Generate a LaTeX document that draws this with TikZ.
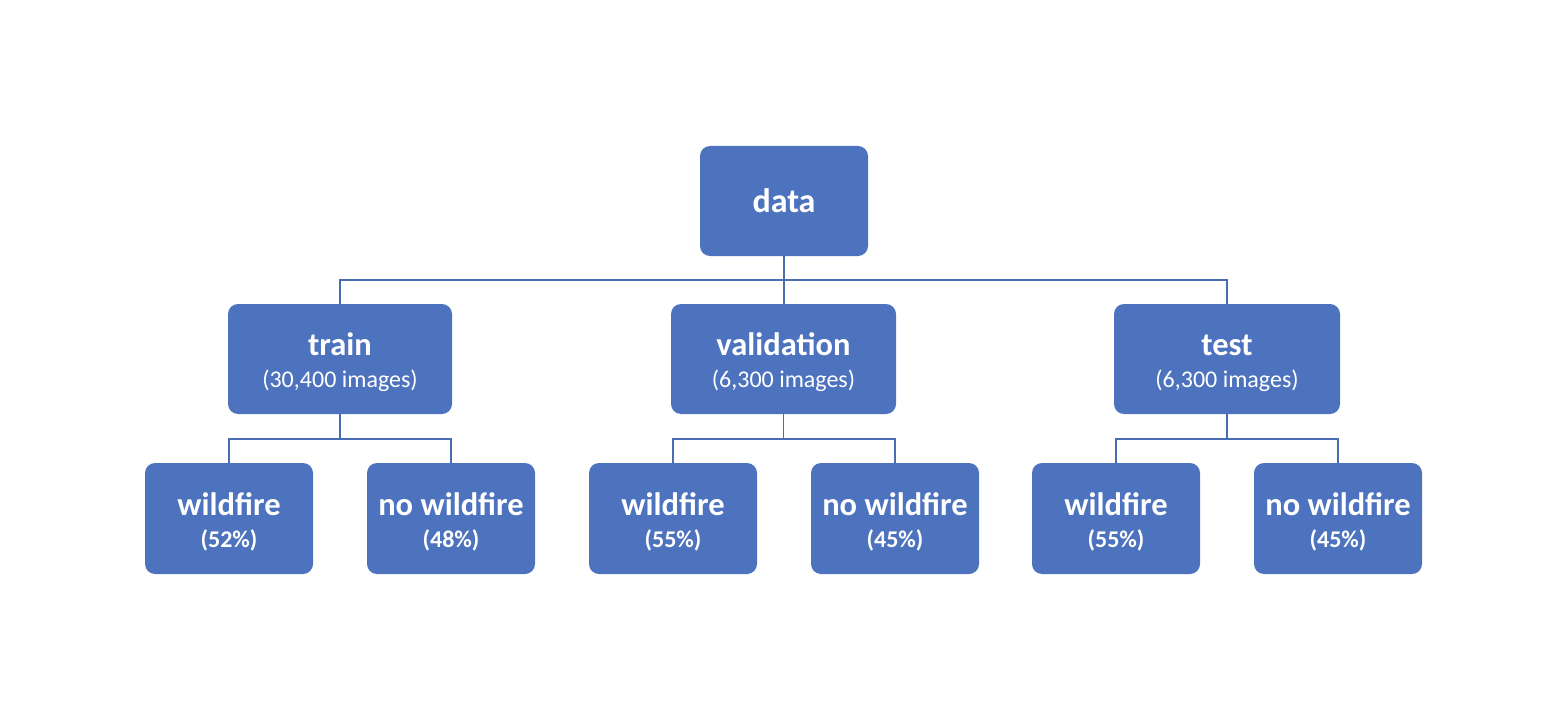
\documentclass[tikz,border=0pt]{standalone}
\usepackage{fontspec}
\usetikzlibrary{calc}
\setmainfont{Carlito}
\definecolor{boxblue}{HTML}{4E73BE}
\definecolor{lineblue}{HTML}{4A6CB3}
\newcommand{\ttl}{\fontsize{32.5}{32}\selectfont\bfseries\rule{0pt}{29.5pt}}
\newcommand{\sub}{\fontsize{24}{32}\selectfont}
\tikzset{
  box/.style={fill=boxblue, draw=none, rounded corners=10pt, inner sep=0pt,
    minimum height=110pt, text=white, align=center, font=\fontsize{24}{32}\selectfont},
  leaf/.style={box, minimum width=168pt, minimum height=111pt},
  conn/.style={draw=lineblue, line width=1.8pt}
}
\begin{document}
\begin{tikzpicture}[x=1pt,y=-1pt]
\useasboundingbox (0,0) rectangle (1568,722);
% root
\node[box, minimum width=168pt, font=\fontsize{34}{36}\selectfont\bfseries] (data) at (784,201) {data};
% level 2
\node[box, minimum width=224pt] (train) at (340,359)
  {{\ttl train}\\{\sub (30,400 images)}};
\node[box, minimum width=225pt] (val) at (783.5,359)
  {{\ttl validation}\\{\sub (6,300 images)}};
\node[box, minimum width=226pt] (test) at (1227,359)
  {{\ttl test}\\{\sub (6,300 images)}};
% leaves
\newcommand{\leaftext}[2]{{\ttl #1}\\{\sub\bfseries (#2)}}
\node[leaf] (w1) at (229,518.5) {\leaftext{wildfire}{52\%}};
\node[leaf] (n1) at (451,518.5) {\leaftext{no wildfire}{48\%}};
\node[leaf] (w2) at (673,518.5) {\leaftext{wildfire}{55\%}};
\node[leaf] (n2) at (895,518.5) {\leaftext{no wildfire}{45\%}};
\node[leaf] (w3) at (1116,518.5) {\leaftext{wildfire}{55\%}};
\node[leaf] (n3) at (1338,518.5) {\leaftext{no wildfire}{45\%}};
% connectors level 1
\coordinate (bus1) at (784,280);
\draw[conn] (data.south) -- (bus1);
\draw[conn] (train.north) -- (train.north |- bus1) -- (test.north |- bus1) -- (test.north);
\draw[conn] (bus1) -- (val.north -| bus1);
% connectors level 2
\foreach \p/\a/\b in {train/w1/n1, val/w2/n2, test/w3/n3}{
  \coordinate (\p-bus) at ($(\p.south)+(0,25)$);
  \draw[conn] (\p.south) -- (\p-bus);
  \draw[conn] (\a.north) -- (\a.north |- \p-bus) -- (\b.north |- \p-bus) -- (\b.north);
}
\end{tikzpicture}
\end{document}
